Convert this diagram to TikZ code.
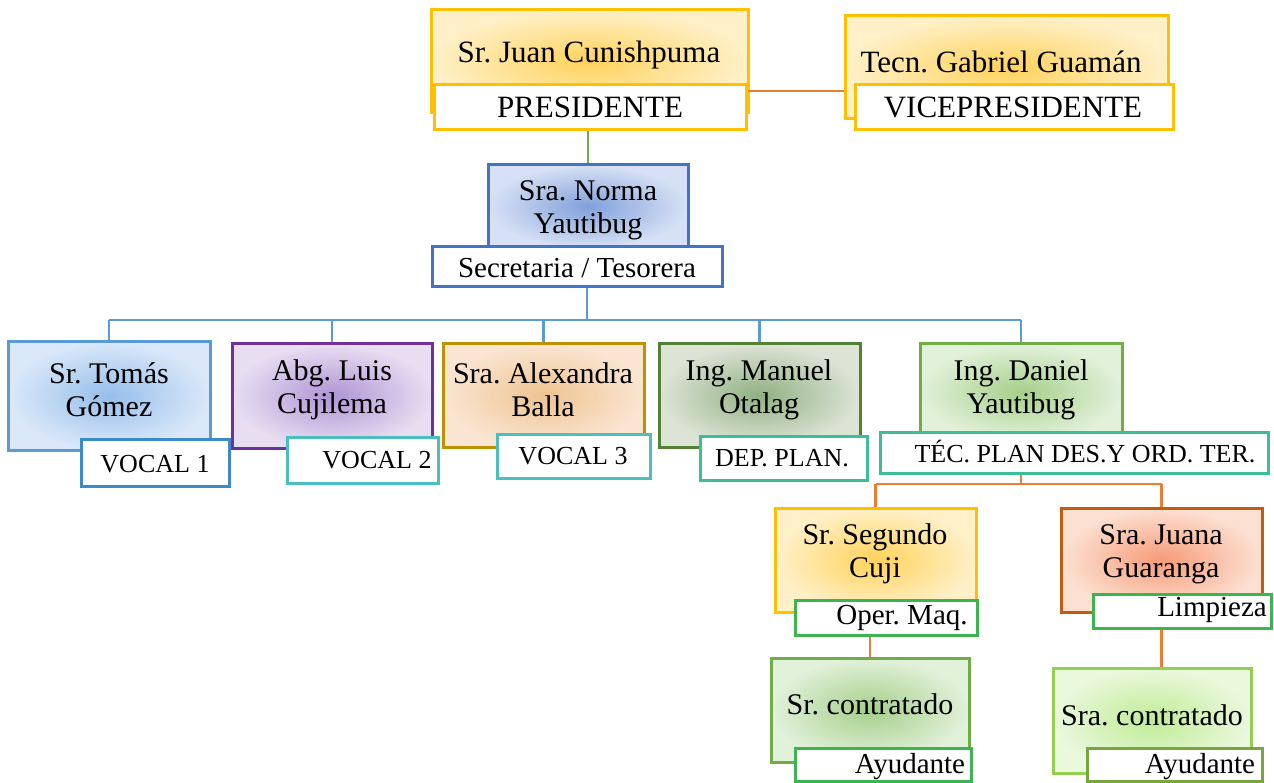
\documentclass[tikz,border=0pt]{standalone}
\usepackage{fontspec}
\setmainfont{Liberation Serif}
\usetikzlibrary{calc}
\frenchspacing
\definecolor{cyel}{HTML}{FFC000}
\definecolor{cblue}{HTML}{4472C4}
\definecolor{clblue}{HTML}{5B9BD5}
\definecolor{cpurp}{HTML}{7030A0}
\definecolor{cgold}{HTML}{BF9000}
\definecolor{cdgreen}{HTML}{548235}
\definecolor{cgreen}{HTML}{70AD47}
\definecolor{cdorange}{HTML}{C55A11}
\definecolor{corange}{HTML}{ED7D31}
\definecolor{clgreen}{HTML}{92D050}
\definecolor{cteal}{HTML}{4BBFBF}
\definecolor{ctealg}{HTML}{3DBE9A}
\definecolor{clabg}{HTML}{3CB54F}
\definecolor{cvblue}{HTML}{3A8BC8}
\newcommand{\obox}[6]{\node[#6, minimum width={#4-#2}, minimum height={#5-#3}] (#1) at ({(#2+#4)/2},{(#3+#5)/2}) {};}
\begin{document}
\begin{tikzpicture}[x=1pt,y=-1pt,
  pbox/.style={draw, line width=3pt, inner sep=0pt, rectangle, shading=radial},
  lbox/.style={draw, line width=3pt, inner sep=0pt, rectangle, fill=white},
  nametxt/.style={align=center, inner sep=0pt, font=\fontsize{30}{33}\selectfont},
  labtxt/.style={inner sep=0pt, font=\fontsize{29}{33}\selectfont},
  smalltxt/.style={inner sep=0pt, font=\fontsize{26}{30}\selectfont},
  conn/.style={line width=2.5pt}]
\useasboundingbox (0,0) rectangle (1274,783);
% ---------- top ----------
\obox{juan}{431}{10}{748}{113}{pbox, draw=cyel, inner color={rgb,255:red,255;green,210;blue,90}, outer color={rgb,255:red,255;green,240;blue,200}}
\obox{pres}{434}{85}{746}{130}{lbox, draw=cyel}
\obox{gab}{845}{16}{1168}{119}{pbox, draw=cyel, inner color={rgb,255:red,255;green,210;blue,90}, outer color={rgb,255:red,255;green,240;blue,200}}
\obox{vice}{855}{85}{1173}{130}{lbox, draw=cyel}
\node[nametxt, font=\fontsize{31}{33}\selectfont] (tjuan) at (589,55) {Sr. Juan Cunishpuma};
\node[nametxt, font=\fontsize{31}{33}\selectfont] (tpres) at (590,107) {PRESIDENTE};
\node[nametxt, font=\fontsize{31}{33}\selectfont] (tgab) at (1001,62) {Tecn. Gabriel Guamán};
\node[nametxt, font=\fontsize{31}{33}\selectfont] (tvice) at (1013,107) {VICEPRESIDENTE};
\draw[corange, line width=1.2pt] (pres.east |- 0,91) -- (gab.west |- 0,91);
% ---------- secretaria ----------
\obox{norma}{488}{165}{688}{248}{pbox, draw=cblue, inner color={rgb,255:red,130;green,160;blue,218}, outer color={rgb,255:red,215;green,225;blue,245}}
\obox{sec}{432}{247}{722}{287}{lbox, draw=cblue}
\node[nametxt] (tnorma) at (588,210) {Sra. Norma\\Yautibug};
\node[labtxt] (tsec) at (577,268) {Secretaria / Tesorera};
\draw[cgreen, conn] (norma.north |- pres.south) -- (norma.north);
% ---------- second row ----------
\obox{tomas}{8}{342}{210}{450}{pbox, draw=clblue, inner color={rgb,255:red,150;green,190;blue,235}, outer color={rgb,255:red,218;green,232;blue,249}}
\obox{voc1}{81}{439}{229}{486}{lbox, draw=cvblue}
\obox{luis}{232}{344}{432}{448}{pbox, draw=cpurp, inner color={rgb,255:red,175;green,148;blue,212}, outer color={rgb,255:red,232;green,222;blue,242}}
\obox{voc2}{287}{437}{438}{483}{lbox, draw=cteal}
\obox{alex}{443}{344}{644}{447}{pbox, draw=cgold, inner color={rgb,255:red,238;green,196;blue,145}, outer color={rgb,255:red,250;green,229;blue,210}}
\obox{voc3}{497}{434}{650}{478}{lbox, draw=cteal}
\obox{manuel}{659}{344}{860}{447}{pbox, draw=cdgreen, inner color={rgb,255:red,145;green,176;blue,130}, outer color={rgb,255:red,220;green,228;blue,214}}
\obox{dep}{700}{436}{867}{480}{lbox, draw=ctealg}
\obox{daniel}{920}{344}{1122}{440}{pbox, draw=cgreen, inner color={rgb,255:red,165;green,207;blue,138}, outer color={rgb,255:red,226;green,241;blue,218}}
\obox{tec}{880}{432}{1268}{473}{lbox, draw=ctealg}
\node[nametxt] (ttomas) at (109,390) {Sr. Tomás\\Gómez};
\node[smalltxt] (tvoc1) at (155,464) {VOCAL 1};
\node[nametxt] (tluis) at (332,390) {Abg. Luis\\Cujilema};
\node[smalltxt] (tvoc2) at (377,460) {VOCAL 2};
\node[nametxt] (talex) at (543,390) {Sra. Alexandra\\Balla};
\node[smalltxt] (tvoc3) at (573,456) {VOCAL 3};
\node[nametxt] (tmanuel) at (759,390) {Ing. Manuel\\Otalag};
\node[smalltxt] (tdep) at (782,458) {DEP. PLAN.};
\node[nametxt] (tdaniel) at (1021,390) {Ing. Daniel\\Yautibug};
\node[smalltxt] (ttec) at (1085,452) {TÉC. PLAN DES.Y ORD. TER.};
\coordinate (bus) at (587,320);
\draw[clblue, conn] (sec.south -| bus) -- (bus);
\draw[clblue, conn] (tomas.north |- bus) -- (daniel.north |- bus);
\foreach \n in {tomas,luis,alex,manuel,daniel}
  \draw[clblue, conn] (\n.north |- bus) -- (\n.north);
% ---------- third row ----------
\obox{segundo}{775}{508}{976}{612}{pbox, draw=cyel, inner color={rgb,255:red,255;green,210;blue,90}, outer color={rgb,255:red,255;green,240;blue,200}}
\obox{oper}{795}{600}{977}{635}{lbox, draw=clabg}
\obox{juana}{1061}{508}{1262}{612}{pbox, draw=cdorange, inner color={rgb,255:red,247;green,155;blue,120}, outer color={rgb,255:red,252;green,225;blue,210}}
\obox{limp}{1093}{594}{1271}{628}{lbox, draw=clabg}
\node[nametxt] (tsegundo) at (875,554) {Sr. Segundo\\Cuji};
\node[labtxt] (toper) at (902,618) {Oper. Maq.};
\node[nametxt] (tjuana) at (1161,554) {Sra. Juana\\Guaranga};
\node[labtxt] (tlimp) at (1212,610) {Limpieza};
\coordinate (obus) at (1021,484);
\draw[corange, conn] (daniel.center |- tec.south) -- (obus);
\draw[corange, conn] (segundo.north |- obus) -- (juana.north |- obus);
\draw[corange, conn] (segundo.north |- obus) -- (segundo.north);
\draw[corange, conn] (juana.north |- obus) -- (juana.north);
% ---------- fourth row ----------
\obox{srcon}{771}{658}{969}{762}{pbox, draw=cgreen, inner color={rgb,255:red,165;green,207;blue,138}, outer color={rgb,255:red,226;green,241;blue,218}}
\obox{ayu1}{795}{748}{971}{781}{lbox, draw=clabg}
\obox{sracon}{1053}{668}{1251}{773}{pbox, draw=clgreen, inner color={rgb,255:red,192;green,236;blue,150}, outer color={rgb,255:red,234;green,248;blue,220}}
\obox{ayu2}{1087}{748}{1262}{781}{lbox, draw=clgreen!80!black}
\node[nametxt] (tsrcon) at (870,704) {Sr. contratado};
\node[labtxt] (tayu1) at (910,767) {Ayudante};
\node[nametxt] (tsracon) at (1152,715) {Sra. contratado};
\node[labtxt] (tayu2) at (1200,767) {Ayudante};
\draw[corange, conn] (srcon.north |- oper.south) -- (srcon.north);
\draw[corange, conn] (juana.center |- limp.south) -- (juana.center |- sracon.north);
\end{tikzpicture}
\end{document}
